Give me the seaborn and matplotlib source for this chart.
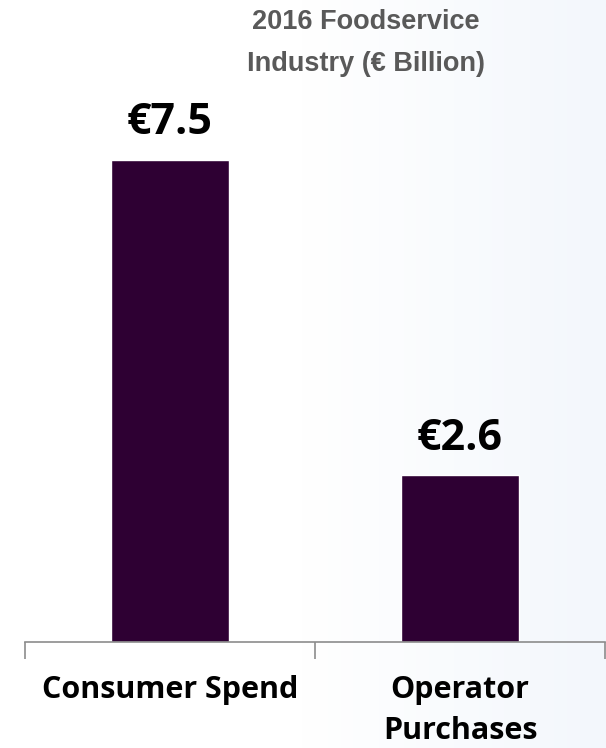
import numpy as np
import pandas as pd
import matplotlib
matplotlib.use("Agg")
import matplotlib.pyplot as plt
from matplotlib.colors import LinearSegmentedColormap
import seaborn as sns

categories = ["Consumer Spend", "Operator\nPurchases"]
values = [7.5, 2.6]
value_labels = ["€7.5", "€2.6"]
title_text = "2016 Foodservice\nIndustry (€ Billion)"

bar_color = "#2E0033"

sns.set_theme(style="white")
plt.rcParams["font.family"] = ["Open Sans", "DejaVu Sans"]

fig = plt.figure(figsize=(6.06, 7.48), dpi=100)

# soft white-to-blue wash behind the chart
bg = fig.add_axes([0, 0, 1, 1], zorder=-1)
grad = np.linspace(0, 1, 256)[None, :]
cmap = LinearSegmentedColormap.from_list("wash", ["#FFFFFF", "#FFFFFF", "#F3F7FC"])
bg.imshow(grad, aspect="auto", cmap=cmap, extent=[0, 1, 0, 1])
bg.axis("off")

W, H = 606, 748
left, right = 25, 605
bottom_px, top_px = 642, 100
ax = fig.add_axes([left / W, 1 - bottom_px / H, (right - left) / W, (bottom_px - top_px) / H])
ax.patch.set_alpha(0)

df = pd.DataFrame({"category": categories, "value": values})
sns.barplot(data=df, x="category", y="value", color=bar_color, width=0.405,
            saturation=1, ax=ax)

ymax = (bottom_px - top_px) / 64.3
ax.set_ylim(0, ymax)
ax.set_xlim(-0.5, len(categories) - 0.5)

for i, (v, lab) in enumerate(zip(values, value_labels)):
    ax.annotate(lab, (i, v), xytext=(0, 11), textcoords="offset points",
                ha="center", va="bottom", fontsize=31, fontweight="bold",
                color="#000000")

# category boundary ticks with labels centred between them
ax.set_xticks(np.arange(-0.5, len(categories), 1.0))
ax.set_xticklabels([])
ax.set_xticks(range(len(categories)), minor=True)
ax.set_xticklabels(categories, minor=True, fontsize=22, fontweight="bold",
                   color="#000000", linespacing=1.45)
ax.tick_params(axis="x", which="major", length=12, width=1.2, color="#8C8C8C",
               direction="out", bottom=True)
ax.tick_params(axis="x", which="minor", length=0, pad=24)
ax.set_yticks([])
ax.set_xlabel("")
ax.set_ylabel("")
for s in ["top", "right", "left"]:
    ax.spines[s].set_visible(False)
ax.spines["bottom"].set_color("#8C8C8C")
ax.spines["bottom"].set_linewidth(1.2)

fig.text(366 / W, 1 - 9 / H, title_text, ha="center", va="top",
         fontsize=19.5, fontweight="bold", color="#595959",
         family=["Liberation Sans", "DejaVu Sans"], linespacing=1.8)

fig.savefig("out.png", dpi=100)
